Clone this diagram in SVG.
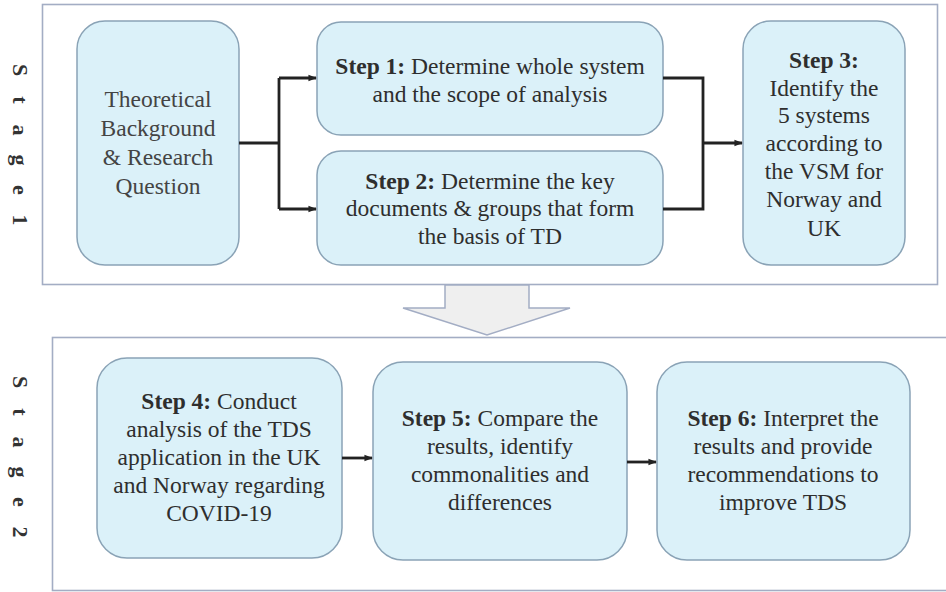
<svg xmlns="http://www.w3.org/2000/svg" width="946" height="592" viewBox="0 0 946 592">
<style>
.stage{fill:#ffffff;stroke:#a3adc4;stroke-width:1.6}
.node{fill:#dbf1f9;stroke:#8aa3b6;stroke-width:1.5}
.t{font-size:23.5px;fill:#2e2e2e;text-anchor:middle}
.b{font-weight:bold}
.lbl{font-size:22px;font-weight:bold;fill:#333;text-anchor:middle}
.c{fill:none;stroke:#222;stroke-width:2.8}
</style>
<defs>
<marker id="ah" viewBox="0 0 10 10" refX="9" refY="5" markerWidth="3" markerHeight="3" orient="auto" markerUnits="strokeWidth">
<path d="M0,1 L10,5 L0,9 z" fill="#222"/>
</marker>
</defs>
<rect width="946" height="592" fill="#ffffff"/>
<g font-family="'Liberation Serif', 'Times New Roman', serif">
<g id="stage1">
<rect class="stage" x="42.5" y="4.5" width="895" height="280"/>
<text class="lbl" transform="rotate(90)" x="70 100 130 160 190 220" y="-13">Stage1</text>
</g>
<g id="stage2">
<rect class="stage" x="52.5" y="337.5" width="900" height="253"/>
<text class="lbl" transform="rotate(90)" x="382 412 442 472 502 532" y="-13">Stage2</text>
</g>
<g id="stage-arrow">
<path d="M445,285 L529,285 L529,308 L570,308 L487,335 L403,308 L445,308 Z" fill="#efefef" stroke="#a3adc4" stroke-width="1.5"/>
</g>
<g id="theory">
<rect class="node" x="77" y="21" width="162" height="244" rx="28"/>
<text class="t" style="fill:#444"><tspan x="158" y="107">Theoretical</tspan><tspan x="158" y="136">Background</tspan><tspan x="158" y="165">&amp; Research</tspan><tspan x="158" y="194">Question</tspan></text>
</g>
<g id="step1">
<rect class="node" x="317" y="22" width="346" height="113" rx="24"/>
<text class="t"><tspan x="490" y="74"><tspan class="b">Step 1:</tspan> Determine whole system</tspan><tspan x="490" y="102">and the scope of analysis</tspan></text>
</g>
<g id="step2">
<rect class="node" x="317" y="151" width="346" height="114" rx="24"/>
<text class="t"><tspan x="490" y="189"><tspan class="b">Step 2:</tspan> Determine the key</tspan><tspan x="490" y="216">documents &amp; groups that form</tspan><tspan x="490" y="244">the basis of TD</tspan></text>
</g>
<g id="step3">
<rect class="node" x="743" y="21" width="162" height="244" rx="28"/>
<text class="t"><tspan class="b" x="824" y="68">Step 3:</tspan><tspan x="824" y="96">Identify the</tspan><tspan x="824" y="123">5 systems</tspan><tspan x="824" y="151">according to</tspan><tspan x="824" y="179">the VSM for</tspan><tspan x="824" y="207">Norway and</tspan><tspan x="824" y="236">UK</tspan></text>
</g>
<g id="step4">
<rect class="node" x="97" y="358" width="245" height="200" rx="30"/>
<text class="t"><tspan x="219" y="409"><tspan class="b">Step 4:</tspan> Conduct</tspan><tspan x="219" y="437">analysis of the TDS</tspan><tspan x="219" y="465">application in the UK</tspan><tspan x="219" y="493">and Norway regarding</tspan><tspan x="219" y="521">COVID-19</tspan></text>
</g>
<g id="step5">
<rect class="node" x="373" y="362" width="254" height="198" rx="30"/>
<text class="t"><tspan x="500" y="426"><tspan class="b">Step 5:</tspan> Compare the</tspan><tspan x="500" y="454">results, identify</tspan><tspan x="500" y="482">commonalities and</tspan><tspan x="500" y="510">differences</tspan></text>
</g>
<g id="step6">
<rect class="node" x="657" y="362" width="253" height="198" rx="30"/>
<text class="t"><tspan x="783" y="426"><tspan class="b">Step 6:</tspan> Interpret the</tspan><tspan x="783" y="454">results and provide</tspan><tspan x="783" y="482">recommendations to</tspan><tspan x="783" y="510">improve TDS</tspan></text>
</g>
</g>
<g id="connectors">
<path class="c" d="M239,143 L279,143"/>
<path class="c" d="M279,78 L279,209"/>
<path class="c" d="M279,78 L316,78" marker-end="url(#ah)"/>
<path class="c" d="M279,209 L316,209" marker-end="url(#ah)"/>
<path class="c" d="M663,78 L703,78 L703,209 L663,209"/>
<path class="c" d="M703,143 L742,143" marker-end="url(#ah)"/>
<path class="c" d="M342,458 L372,458" marker-end="url(#ah)"/>
<path class="c" d="M627,462 L656,462" marker-end="url(#ah)"/>
</g>
</svg>
